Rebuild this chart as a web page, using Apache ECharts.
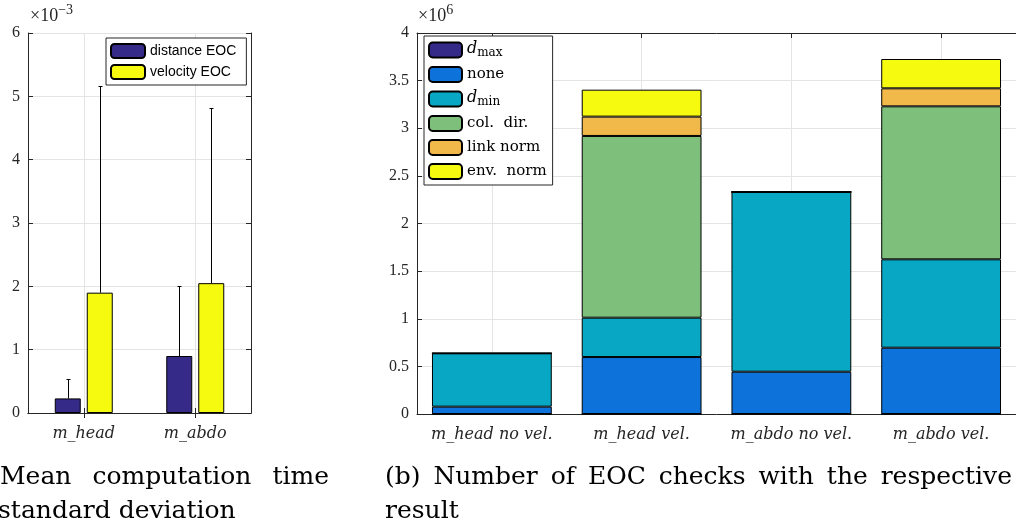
<!DOCTYPE html>
<html>
<head>
<meta charset="utf-8">
<script src="https://cdn.jsdelivr.net/npm/echarts@6/dist/echarts.min.js"></script>
<style>
  html, body { margin: 0; padding: 0; background: #ffffff; }
  #chart { width: 1016px; height: 523px; }
</style>
</head>
<body>
<div id="chart"></div>
<script>
// (a) Mean EOC computation time per model, in units of 1e-3 s, with standard deviation
const timeCategories = ['m_head', 'm_abdo'];
const distanceMean = [0.23, 0.90];
const distanceStd = [0.30, 1.10];
const velocityMean = [1.90, 2.05];
const velocityStd = [3.27, 2.76];

// (b) Number of EOC checks per result, in units of 1e6
const checkCategories = ['m_head no vel.', 'm_head vel.', 'm_abdo no vel.', 'm_abdo vel.'];
const dMax = [0, 0, 0, 0];
const none = [0.077, 0.598, 0.444, 0.696];
const dMin = [0.560, 0.413, 1.887, 0.928];
const colDir = [0, 1.908, 0, 1.606];
const linkNorm = [0, 0.203, 0, 0.189];
const envNorm = [0, 0.283, 0, 0.308];

const AXIS = '#262626';
const GRIDLINE = '#e4e4e4';
const TICK_FONT = 'Liberation Serif';
const TEXT_FONT = 'DejaVu Serif';
const CAPTION_SIZE = 25;
const BAR_W = 26;          // grouped bar width in (a)
const BAR_GAP = 6;         // space between the two bars of a group

const colors = {
  dMax: '#352a87', none: '#0d72da', dMin: '#08a8c4',
  colDir: '#7dbf7b', linkNorm: '#f1b84a', envNorm: '#f6fa0f'
};

const chart = echarts.init(document.getElementById('chart'), null, { renderer: 'canvas' });

function valueAxis(gridIndex, pos, max, interval, showLabel) {
  return {
    type: 'value', gridIndex, position: pos, min: 0, max, interval,
    axisLine: { show: true, lineStyle: { color: AXIS, width: 1 } },
    axisTick: { show: true, inside: true, length: 5, lineStyle: { color: AXIS } },
    axisLabel: { show: showLabel, color: AXIS, fontFamily: TICK_FONT, fontSize: 16, margin: 8 },
    splitLine: { show: showLabel, lineStyle: { color: GRIDLINE, width: 1 } }
  };
}
function catAxis(gridIndex, pos, data, showLabel) {
  return {
    type: 'category', gridIndex, position: pos, data,
    axisLine: { show: true, lineStyle: { color: AXIS, width: 1 } },
    axisTick: { show: true, inside: true, length: 5, alignWithLabel: true, lineStyle: { color: AXIS } },
    axisLabel: { show: showLabel, interval: 0, color: AXIS, fontFamily: TEXT_FONT, fontStyle: 'italic', fontSize: 16, margin: 13 },
    splitLine: { show: showLabel, alignWithLabel: true, lineStyle: { color: GRIDLINE, width: 1 } }
  };
}

// upward-only error bars centred on a grouped bar
function errorSeries(means, stds, side) {
  const shift = side * (BAR_W + BAR_GAP) / 2;
  return {
    type: 'custom', xAxisIndex: 0, yAxisIndex: 0, z: 5, silent: true,
    encode: { x: 0, y: [1, 2] },
    data: means.map((m, i) => [i, m, m + stds[i]]),
    renderItem(params, api) {
      const base = api.coord([api.value(0), api.value(1)]);
      const top = api.coord([api.value(0), api.value(2)]);
      const x = Math.round(base[0] + shift) + 0.5;
      const yTop = Math.round(top[1]) + 0.5;
      const style = { stroke: '#000000', lineWidth: 1 };
      return {
        type: 'group', children: [
          { type: 'line', shape: { x1: x, y1: base[1], x2: x, y2: yTop }, style },
          { type: 'line', shape: { x1: x - 2, y1: yTop, x2: x + 2, y2: yTop }, style }
        ]
      };
    }
  };
}

function stackSeries(name, data, color) {
  return {
    name, type: 'bar', stack: 'eoc', xAxisIndex: 2, yAxisIndex: 2, data,
    barWidth: '80%',
    itemStyle: { color, borderColor: '#000000', borderWidth: 1 }
  };
}

const legendLabels = {
  'dmax': '{i|d}{s|max}', 'none': '{r|none}', 'dmin': '{i|d}{s|min}',
  'col. dir.': '{r|col.  dir.}', 'link norm': '{r|link norm}', 'env. norm': '{r|env.  norm}'
};

// justified caption lines: words spread between a left and a right edge
const measureCtx = document.createElement('canvas').getContext('2d');
measureCtx.font = CAPTION_SIZE + 'px "' + TEXT_FONT + '"';
function captionLine(words, x0, x1, y) {
  const widths = words.map(w => measureCtx.measureText(w).width);
  const total = widths.reduce((a, b) => a + b, 0);
  const gap = x1 == null ? measureCtx.measureText(' ').width : (x1 - x0 - total) / (words.length - 1);
  let x = x0;
  return words.map((w, i) => {
    const el = {
      type: 'text', x, y, silent: true,
      style: { text: w, fontFamily: TEXT_FONT, fontSize: CAPTION_SIZE, fill: '#000000', textVerticalAlign: 'middle' }
    };
    x += widths[i] + gap;
    return el;
  });
}
const captions = [].concat(
  captionLine(['Mean', 'computation', 'time'], 0, 329, 477),
  captionLine(['standard', 'deviation'], -2, null, 511),
  captionLine(['(b)', 'Number', 'of', 'EOC', 'checks', 'with', 'the', 'respective'], 385, 1012, 477),
  captionLine(['result'], 385, null, 511)
);

function exponentTitle(left, exp) {
  const base = { fontFamily: TICK_FONT, fontWeight: 'normal', color: AXIS };
  return {
    text: '{a|×10}{b|' + exp + '}', left, top: 3, padding: 0,
    textStyle: {
      fontWeight: 'normal',
      rich: {
        a: Object.assign({ fontSize: 18, lineHeight: 22, verticalAlign: 'bottom' }, base),
        b: Object.assign({ fontSize: 14, lineHeight: 13, verticalAlign: 'top' }, base)
      }
    }
  };
}

const option = {
  animation: false,
  backgroundColor: '#ffffff',
  title: [exponentTitle(30, '−3'), exponentTitle(418, '6')],
  grid: [
    { left: 28, top: 33, width: 223, height: 380 },
    { left: 417, top: 33, width: 606, height: 381 }
  ],
  xAxis: [
    catAxis(0, 'bottom', timeCategories, true),
    catAxis(0, 'top', timeCategories, false),
    catAxis(1, 'bottom', checkCategories, true),
    catAxis(1, 'top', checkCategories, false)
  ],
  yAxis: [
    valueAxis(0, 'left', 6, 1, true),
    valueAxis(0, 'right', 6, 1, false),
    valueAxis(1, 'left', 4, 0.5, true)
  ],
  legend: [
    {
      data: ['distance EOC', 'velocity EOC'], orient: 'vertical',
      left: 106, top: 38, itemWidth: 34, itemHeight: 14, itemGap: 5,
      padding: [5, 10, 5, 4], borderColor: AXIS, borderWidth: 1, backgroundColor: '#ffffff',
      selectedMode: false,
      textStyle: { fontFamily: 'Liberation Sans', fontSize: 14, color: '#000000' }
    },
    {
      data: Object.keys(legendLabels), orient: 'vertical',
      left: 424, top: 36, itemWidth: 33, itemHeight: 15, itemGap: 7,
      padding: [5, 6, 5, 4], borderColor: AXIS, borderWidth: 1, backgroundColor: '#ffffff',
      selectedMode: false,
      formatter: name => legendLabels[name],
      textStyle: {
        color: '#000000',
        rich: {
          r: { fontFamily: TEXT_FONT, fontSize: 15, color: '#000000', lineHeight: 18 },
          i: { fontFamily: TEXT_FONT, fontStyle: 'italic', fontSize: 16, color: '#000000', lineHeight: 18, verticalAlign: 'top' },
          s: { fontFamily: TEXT_FONT, fontSize: 12, color: '#000000', lineHeight: 10, verticalAlign: 'bottom' }
        }
      }
    }
  ],
  series: [
    {
      name: 'distance EOC', type: 'bar', xAxisIndex: 0, yAxisIndex: 0, data: distanceMean,
      barWidth: BAR_W, barGap: (BAR_GAP / BAR_W * 100) + '%',
      itemStyle: { color: colors.dMax, borderColor: '#000000', borderWidth: 1 }
    },
    {
      name: 'velocity EOC', type: 'bar', xAxisIndex: 0, yAxisIndex: 0, data: velocityMean,
      barWidth: BAR_W, barGap: (BAR_GAP / BAR_W * 100) + '%',
      itemStyle: { color: colors.envNorm, borderColor: '#000000', borderWidth: 1 }
    },
    errorSeries(distanceMean, distanceStd, -1),
    errorSeries(velocityMean, velocityStd, 1),
    stackSeries('dmax', dMax, colors.dMax),
    stackSeries('none', none, colors.none),
    stackSeries('dmin', dMin, colors.dMin),
    stackSeries('col. dir.', colDir, colors.colDir),
    stackSeries('link norm', linkNorm, colors.linkNorm),
    stackSeries('env. norm', envNorm, colors.envNorm)
  ],
  graphic: captions
};

chart.setOption(option);
</script>
</body>
</html>
